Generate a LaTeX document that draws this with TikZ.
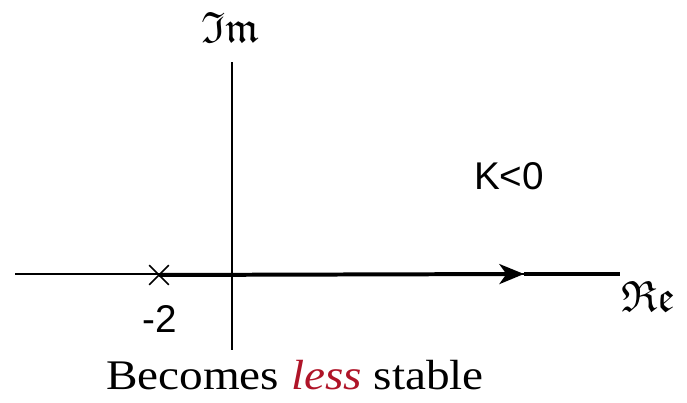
\documentclass[tikz,border=0pt]{standalone}
\usepackage{amssymb}
\usepackage{fontspec}
\setmainfont{Liberation Serif}
\setsansfont{Liberation Sans}
\usetikzlibrary{arrows.meta,shapes.misc}

\definecolor{lessred}{RGB}{175,20,40}

\tikzset{
  axis/.style={line width=1.3pt},
  locus/.style={line width=3.4pt},
  axislabel/.style={font=\fontsize{24.88}{30}\selectfont, scale=1.5},
  sflabel/.style={font=\sffamily\fontsize{33}{40}\selectfont},
}

\begin{document}
\begin{tikzpicture}[x=0.03cm,y=-0.03cm]
  \useasboundingbox (0,0) rectangle (687,403);

  % Axes
  \coordinate (W) at (15,274);
  \coordinate (E) at (620,274);
  \coordinate (N) at (232,62);
  \coordinate (S) at (232,350);
  \draw[axis] (W) -- (E);
  \draw[axis] (S) -- (N);

  % Pole at -2 and the locus for K<0
  \node[cross out, draw, line width=1.3pt, minimum size=18*0.03cm, inner sep=0pt] (pole) at (159,275) {};
  \coordinate (tip) at (524,274);
  \draw[locus, -{Stealth[length=21pt, width=17pt, inset=6pt]}] (pole.center) -- (tip);
  \draw[locus] (tip) -- (E);

  % Labels
  \node[axislabel] (im) at (230,27) {$\mathfrak{Im}$};
  \node[axislabel] (re) at (648,296) {$\mathfrak{Re}$};
  \node[sflabel, anchor=base] (minustwo) at (160,333) {-2};
  \node[sflabel, anchor=base] (gain) at (509,190) {K<0};

  % Caption
  \node[font=\fontsize{36}{42}\selectfont, xscale=1.12, anchor=base] (caption) at (295,390)
    {Becomes \textcolor{lessred}{\textit{less}} stable};
\end{tikzpicture}
\end{document}
